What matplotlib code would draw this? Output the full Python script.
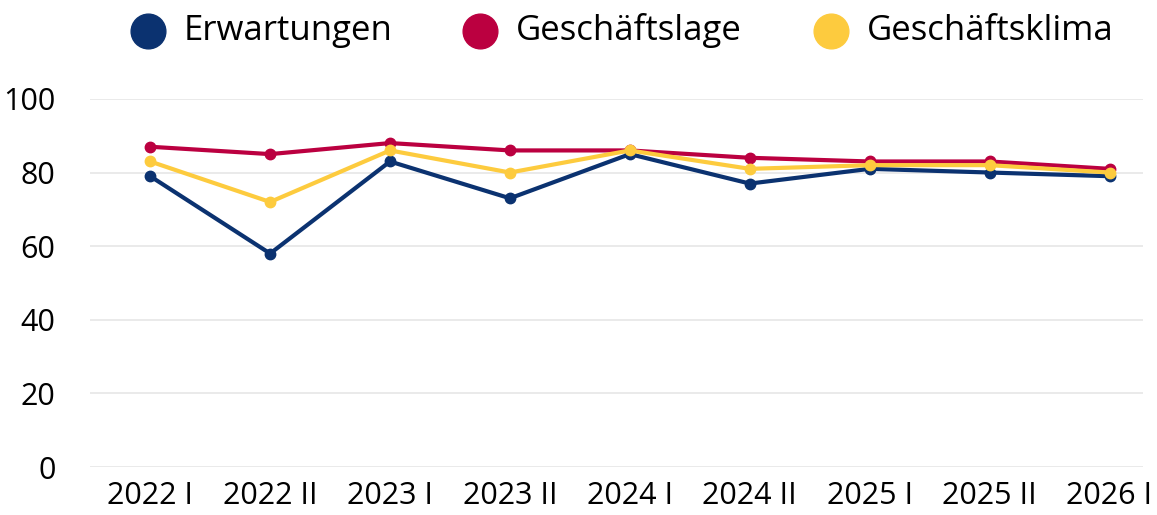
import matplotlib.pyplot as plt
from matplotlib.lines import Line2D

plt.rcParams['font.family'] = ['Open Sans', 'DejaVu Sans']

# data
labels = ["2022 I", "2022 II", "2023 I", "2023 II", "2024 I", "2024 II", "2025 I", "2025 II", "2026 I"]
erwartungen = [79, 58, 83, 73, 85, 77, 81, 80, 79]
geschaeftslage = [87, 85, 88, 86, 86, 84, 83, 83, 81]
geschaeftsklima = [83, 72, 86, 80, 86, 81, 82, 82, 80]

series = [
    ("Erwartungen", erwartungen, "#0b3270"),
    ("Geschäftslage", geschaeftslage, "#bb0040"),
    ("Geschäftsklima", geschaeftsklima, "#fdcb3e"),
]

W, H = 1157, 515
fig = plt.figure(figsize=(W / 100, H / 100), dpi=100)
ax = fig.add_axes([0.078, 0.093, 0.910, 0.715])

x = range(len(labels))
# draw red first so blue/yellow sit on top like the reference
for name, vals, col in [series[1], series[0], series[2]]:
    ax.plot(x, vals, color=col, lw=3, marker="o", ms=7.5, clip_on=False, zorder=3)

ax.set_ylim(0, 100)
ax.set_xlim(-0.5, 8.28)
ax.set_yticks(range(0, 101, 20))
ax.set_xticks(list(x))
ax.set_xticklabels(labels)
ax.grid(axis="y", color="#e6e6e6", lw=1.2)
ax.set_axisbelow(True)
for s in ax.spines.values():
    s.set_visible(False)
ax.tick_params(length=0, labelsize=22, colors="black")
ax.tick_params(axis="y", pad=25)
ax.tick_params(axis="x", pad=10)

# legend laid out by hand (marker centre, text start in pixels)
legend_pos = [(148, 184), (480, 516), (831, 867)]
ly = 1 - 31 / H
for (name, _, col), (mx, tx) in zip(series, legend_pos):
    fig.add_artist(Line2D([mx / W], [ly], transform=fig.transFigure, ls="none",
                          marker="o", ms=25, color=col))
    fig.text(tx / W, ly, name, fontsize=25, va="center", ha="left")

fig.savefig("out.png", dpi=100)
